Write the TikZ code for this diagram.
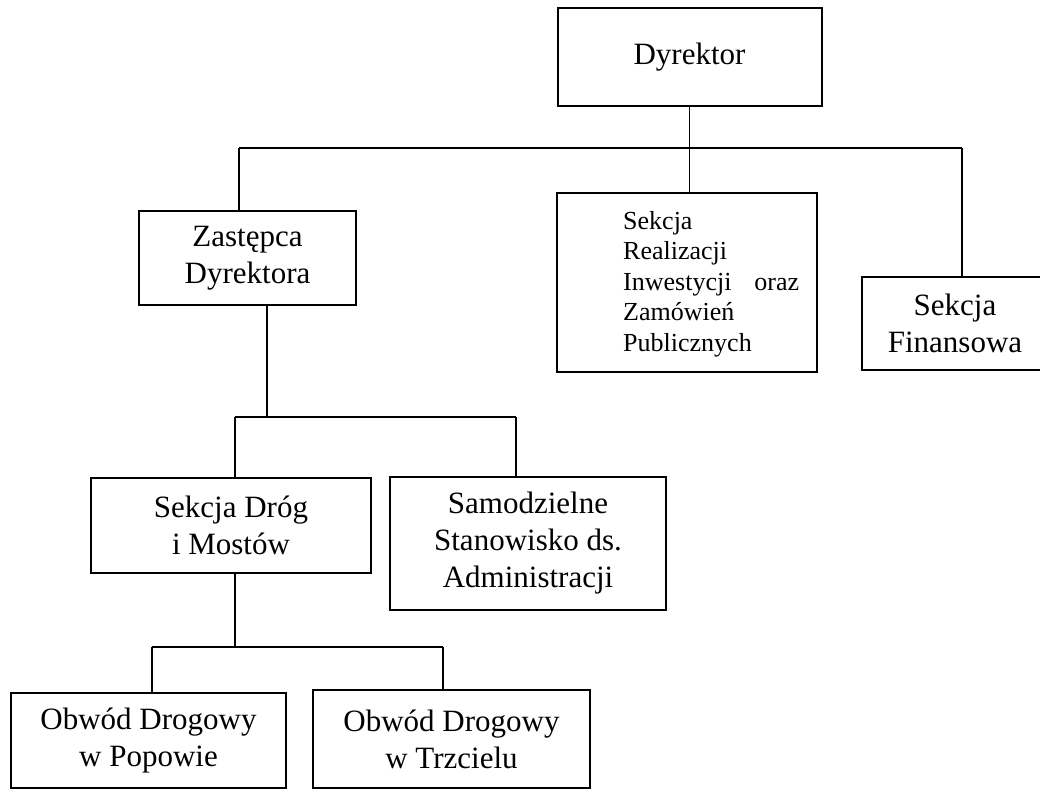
\documentclass[tikz,border=0pt]{standalone}
\usepackage{fontspec}
\setmainfont{Liberation Serif}
\begin{document}
\begin{tikzpicture}[x=1pt,y=-1pt,
  box/.style={draw, line width=2pt, inner sep=0pt, align=center,
    font=\fontsize{31}{37}\selectfont},
  link/.style={line width=1.1pt}]
\useasboundingbox (0,0) rectangle (1040,792);
% boxes
\node[box, minimum width=264pt, minimum height=98pt]  (dyr)  at (689.5,57)   {Dyrektor};
\node[box, minimum width=217pt, minimum height=94pt]  (zast) at (247.5,258)  {Zastępca\\Dyrektora};
\node[box, minimum width=260pt, minimum height=179pt] (real) at (687,282.5)  {};
\node[anchor=west, inner sep=0pt, text width=176pt, align=left,
      font=\fontsize{26}{30.5}\selectfont] (realtxt) at (623,284)
      {Sekcja\\Realizacji\\Inwestycji\hfill oraz\\Zamówień\\Publicznych};
\node[box, minimum width=186pt, minimum height=93pt]  (fin)  at (955,323.5)  {Sekcja\\Finansowa};
\node[box, minimum width=280pt, minimum height=95pt]  (drog) at (231,525.5)  {Sekcja Dróg\\i Mostów};
\node[box, minimum width=276pt, minimum height=133pt] (adm)  at (528,543.5)  {Samodzielne\\Stanowisko ds.\\Administracji};
\node[box, minimum width=275pt, minimum height=95pt]  (pop)  at (148.5,740.5) {Obwód Drogowy\\w Popowie};
\node[box, minimum width=277pt, minimum height=98pt]  (trz)  at (451.5,739)  {Obwód Drogowy\\w Trzcielu};
% bus points
\coordinate (b1m) at (689.5,148);
\coordinate (b1l) at (239,148);
\coordinate (b1r) at (962,148);
\coordinate (b2t) at (267,305);
\coordinate (b2m) at (267,417);
\coordinate (b2l) at (235,417);
\coordinate (b2r) at (516,417);
\coordinate (b3m) at (235,647);
\coordinate (b3l) at (152,647);
\coordinate (b3r) at (443,647);
% connectors
\draw[link] (dyr.south) -- (b1m);
\draw[link] (b1l) -- (b1r);
\draw[link] (b1l) -- (b1l |- zast.north);
\draw[link] (b1m) -- (b1m |- real.north);
\draw[link] (b1r) -- (b1r |- fin.north);
\draw[link] (b2t |- zast.south) -- (b2m);
\draw[link] (b2l) -- (b2r);
\draw[link] (b2l) -- (b2l |- drog.north);
\draw[link] (b2r) -- (b2r |- adm.north);
\draw[link] (b3m |- drog.south) -- (b3m);
\draw[link] (b3l) -- (b3r);
\draw[link] (b3l) -- (b3l |- pop.north);
\draw[link] (b3r) -- (b3r |- trz.north);
\end{tikzpicture}
\end{document}
